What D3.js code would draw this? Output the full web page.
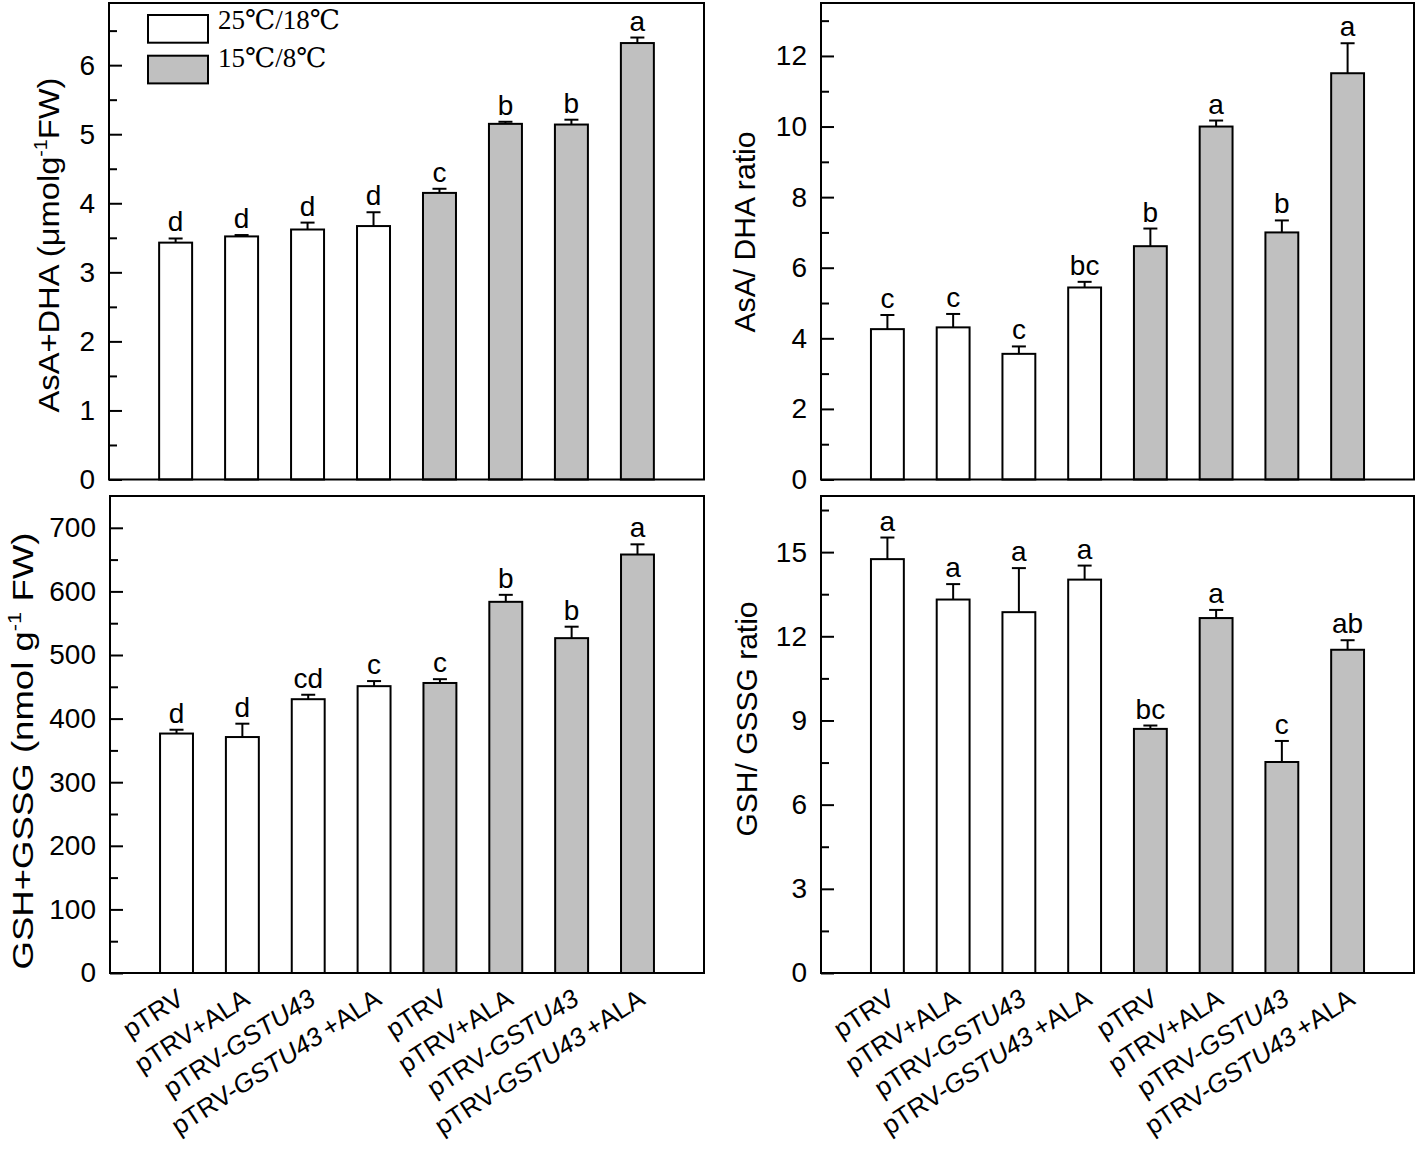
<!DOCTYPE html>
<html>
<head>
<meta charset="utf-8">
<script src="https://cdn.jsdelivr.net/npm/d3@7"></script>
<style>
  html, body { margin: 0; padding: 0; background: #fff; }
  svg { display: block; }
</style>
</head>
<body>
<script>
// ---------------- DATA ----------------
const categories = ["pTRV", "pTRV+ALA", "pTRV-GSTU43", "pTRV-GSTU43+ALA",
                    "pTRV", "pTRV+ALA", "pTRV-GSTU43", "pTRV-GSTU43+ALA"];
const groups = ["25℃/18℃", "25℃/18℃", "25℃/18℃", "25℃/18℃",
                "15℃/8℃", "15℃/8℃", "15℃/8℃", "15℃/8℃"];
const legendLabels = ["25℃/18℃", "15℃/8℃"];

const asaDhaValues = [3.43, 3.52, 3.62, 3.67, 4.15, 5.15, 5.14, 6.32];
const asaDhaErrors = [0.06, 0.02, 0.10, 0.20, 0.06, 0.03, 0.07, 0.08];
const asaDhaLetters = ["d", "d", "d", "d", "c", "b", "b", "a"];

const asaRatioValues = [4.26, 4.31, 3.56, 5.44, 6.61, 10.0, 7.0, 11.51];
const asaRatioErrors = [0.40, 0.38, 0.21, 0.16, 0.50, 0.17, 0.34, 0.85];
const asaRatioLetters = ["c", "c", "c", "bc", "b", "a", "b", "a"];

const gshValues = [376.5, 371, 430.5, 451, 456, 583.6, 526.5, 658];
const gshErrors = [6, 21, 7, 8, 6, 11, 18, 16];
const gshLetters = ["d", "d", "cd", "c", "c", "b", "b", "a"];

const gshRatioValues = [14.75, 13.31, 12.86, 14.02, 8.70, 12.65, 7.52, 11.52];
const gshRatioErrors = [0.77, 0.55, 1.57, 0.50, 0.12, 0.29, 0.75, 0.34];
const gshRatioLetters = ["a", "a", "a", "a", "bc", "a", "c", "ab"];

// axis setups
const asaDhaTicks = [0, 1, 2, 3, 4, 5, 6];
const asaRatioTicks = [0, 2, 4, 6, 8, 10, 12];
const gshTicks = [0, 100, 200, 300, 400, 500, 600, 700];
const gshRatioTicks = [0, 3, 6, 9, 12, 15];

// ---------------- LAYOUT ----------------
const W = 1418, H = 1152;
const SANS = "'Liberation Sans', Arial, Helvetica, sans-serif";
const SERIF = "'Liberation Serif', 'Times New Roman', 'DejaVu Serif', serif";
const GRAY = "#c0c0c0";

const svg = d3.select("body").append("svg")
  .attr("width", W).attr("height", H)
  .attr("viewBox", `0 0 ${W} ${H}`);

const panels = [
  { x0: 109, x1: 704, y0: 3, y1: 479.5, max: 6.9, ticks: asaDhaTicks, minorStep: 0.5,
    values: asaDhaValues, errors: asaDhaErrors, letters: asaDhaLetters,
    title: [["AsA+DHA (μmolg"], ["-1", "sup"], ["FW)"]], titleX: 59, titleY: 245, titleLen: 335,
    xlabels: false, legend: true },
  { x0: 821, x1: 1414, y0: 3, y1: 479.5, max: 13.5, ticks: asaRatioTicks, minorStep: 1,
    values: asaRatioValues, errors: asaRatioErrors, letters: asaRatioLetters,
    title: [["AsA/ DHA ratio"]], titleX: 755, titleY: 232, titleLen: 201,
    xlabels: false, legend: false },
  { x0: 110, x1: 704, y0: 496, y1: 973, max: 750, ticks: gshTicks, minorStep: 50,
    values: gshValues, errors: gshErrors, letters: gshLetters,
    title: [["GSH+GSSG (nmol g"], ["-1", "sup"], [" FW)"]], titleX: 33, titleY: 751, titleLen: 437,
    xlabels: true, legend: false },
  { x0: 821, x1: 1414, y0: 496, y1: 973, max: 17, ticks: gshRatioTicks, minorStep: 1.5,
    values: gshRatioValues, errors: gshRatioErrors, letters: gshRatioLetters,
    title: [["GSH/ GSSG ratio"]], titleX: 757, titleY: 719, titleLen: 235,
    xlabels: true, legend: false }
];

const color = d3.scaleOrdinal().domain(legendLabels).range(["#ffffff", GRAY]);

panels.forEach((p, pi) => {
  const g = svg.append("g");
  const x = d3.scaleBand()
    .domain(d3.range(categories.length))
    .range([p.x0, p.x1])
    .paddingInner(0.5)
    .paddingOuter(0.76);
  const y = d3.scaleLinear().domain([0, p.max]).range([p.y1, p.y0]);

  // minor ticks
  const minorTicks = d3.range(p.minorStep, p.max - 1e-9, p.minorStep)
    .filter(v => !p.ticks.some(t => Math.abs(t - v) < 1e-9));
  const minorAxis = d3.axisLeft(y).tickValues(minorTicks).tickSize(-8).tickFormat("");
  g.append("g").attr("transform", `translate(${p.x0},0)`).call(minorAxis)
    .call(s => s.select(".domain").remove())
    .call(s => s.selectAll("line").attr("stroke", "#000").attr("stroke-width", 2));

  // major ticks
  const majorAxis = d3.axisLeft(y).tickValues(p.ticks).tickSize(-13).tickPadding(14)
    .tickFormat(d3.format("d"));
  g.append("g").attr("transform", `translate(${p.x0},0)`).call(majorAxis)
    .call(s => s.select(".domain").remove())
    .call(s => s.selectAll("line").attr("stroke", "#000").attr("stroke-width", 2))
    .call(s => s.selectAll("text").attr("font-family", SANS).attr("font-size", 28)
      .attr("fill", "#000"));

  // bars
  const idx = d3.range(categories.length);
  g.selectAll("rect.bar").data(idx).enter().append("rect")
    .attr("class", "bar")
    .attr("x", i => x(i))
    .attr("width", x.bandwidth())
    .attr("y", i => y(p.values[i]))
    .attr("height", i => y(0) - y(p.values[i]))
    .attr("fill", i => color(groups[i]))
    .attr("stroke", "#000").attr("stroke-width", 2);

  // error bars (upper only)
  const cap = 7;
  g.selectAll("line.err").data(idx).enter().append("line")
    .attr("x1", i => x(i) + x.bandwidth() / 2)
    .attr("x2", i => x(i) + x.bandwidth() / 2)
    .attr("y1", i => y(p.values[i]))
    .attr("y2", i => y(p.values[i] + p.errors[i]))
    .attr("stroke", "#000").attr("stroke-width", 2);
  g.selectAll("line.cap").data(idx).enter().append("line")
    .attr("x1", i => x(i) + x.bandwidth() / 2 - cap)
    .attr("x2", i => x(i) + x.bandwidth() / 2 + cap)
    .attr("y1", i => y(p.values[i] + p.errors[i]))
    .attr("y2", i => y(p.values[i] + p.errors[i]))
    .attr("stroke", "#000").attr("stroke-width", 2);

  // letters
  g.selectAll("text.sig").data(idx).enter().append("text")
    .attr("x", i => x(i) + x.bandwidth() / 2)
    .attr("y", i => y(p.values[i] + p.errors[i]) - 7)
    .attr("text-anchor", "middle")
    .attr("font-family", SANS).attr("font-size", 28)
    .text(i => p.letters[i]);

  // frame
  g.append("rect")
    .attr("x", p.x0).attr("y", p.y0)
    .attr("width", p.x1 - p.x0).attr("height", p.y1 - p.y0)
    .attr("fill", "none").attr("stroke", "#000").attr("stroke-width", 2);

  // y title
  const t = g.append("text")
    .attr("transform", `translate(${p.titleX},${p.titleY}) rotate(-90)`)
    .attr("text-anchor", "middle")
    .attr("font-family", SANS).attr("font-size", 30)
    .attr("textLength", p.titleLen)
    .attr("lengthAdjust", "spacingAndGlyphs");
  p.title.forEach(([s, kind]) => {
    const ts = t.append("tspan").text(s);
    if (kind === "sup") ts.attr("font-size", 18).attr("dy", -12);
    else if (t.selectAll("tspan").size() > 1) ts.attr("dy", 12);
  });

  // x labels
  if (p.xlabels) {
    idx.forEach(i => {
      const cx = x(i) + x.bandwidth() / 2;
      const lt = g.append("text")
        .attr("transform", `translate(${cx + 9},${p.y1 + 30}) rotate(-33)`)
        .attr("text-anchor", "end")
        .attr("font-family", SANS).attr("font-size", 26);
      let afterItalic = false;
      categories[i].split(/(GSTU43)/).filter(s => s.length).forEach(s => {
        const ts = lt.append("tspan").text(s);
        if (s === "GSTU43") ts.attr("font-style", "italic");
        if (afterItalic) ts.attr("dx", 5);
        afterItalic = (s === "GSTU43");
      });
    });
  }

  // legend
  if (p.legend) {
    const lg = g.append("g");
    legendLabels.forEach((lab, k) => {
      lg.append("rect")
        .attr("x", 148).attr("y", 15 + k * 40.7)
        .attr("width", 60).attr("height", 27.7)
        .attr("fill", color(lab)).attr("stroke", "#000").attr("stroke-width", 2);
      lg.append("text")
        .attr("x", 218).attr("y", 29.3 + k * 37.4)
        .attr("font-family", SERIF).attr("font-size", 27)
        .text(lab);
    });
  }
});
</script>
</body>
</html>
